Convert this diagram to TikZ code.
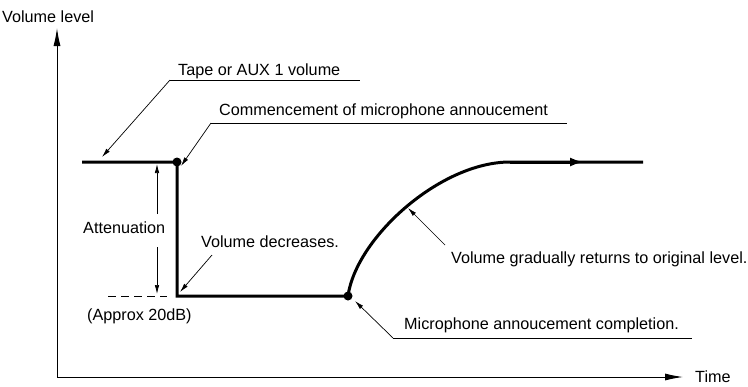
\documentclass[tikz,border=0pt]{standalone}
\usepackage{fontspec}
\setmainfont{Liberation Sans}
\usetikzlibrary{arrows.meta,positioning}

\tikzset{
  labeltext/.style={inner sep=0pt,anchor=base west,font=\fontsize{16.2bp}{19bp}\selectfont},
  axis/.style={line width=1bp,-{Latex[length=18bp,width=7bp]}},
  leader/.style={line width=0.7bp,-{Latex[length=9bp,width=4.5bp]}},
  underline/.style={line width=0.7bp},
  level/.style={line width=3bp},
  dot/.style={circle,fill,inner sep=0pt,minimum size=9bp},
}

\begin{document}
\begin{tikzpicture}[x=1bp,y=-1bp]
    \useasboundingbox (0,0) rectangle (748,386);
    % axes
    \coordinate (origin) at (57,377);
    \coordinate (ytop) at (57,28);
    \coordinate (xend) at (683,377);
    \draw[axis] (origin) -- (ytop);
    \draw[axis] (origin) -- (xend);
    \node[labeltext] (vol) at (2,22) {Volume level};
    \node[labeltext] (time) at (695,382) {Time};

    % volume level
    \coordinate (start) at (82,162);
    \node[dot] (micon) at (177,162) {};
    \coordinate (low) at (177,296);
    \node[dot] (micoff) at (348,296) {};
    \coordinate (back) at (510,162);
    \coordinate (mid) at (584,162);
    \coordinate (stop) at (643,162);
    \draw[level] (start) -- (micon.center) -- (low) -- (micoff.center)
        .. controls (356,238) and (440,162) .. (back) -- (stop);
    \draw[level,-{Latex[length=14bp,width=9bp]}] (back) -- (mid);

    % attenuation
    \node[labeltext] (att) at (83,233) {Attenuation};
    \coordinate (attup) at (157,214);
    \coordinate (atttop) at (157,164);
    \coordinate (attdown) at (157,247);
    \coordinate (attbot) at (157,294);
    \draw[leader] (attup) -- (atttop);
    \draw[leader] (attdown) -- (attbot);
    \coordinate (dashl) at (108,296);
    \coordinate (dashr) at (167,296);
    \draw[line width=0.8bp,dash pattern=on 8bp off 5bp] (dashl) -- (dashr);
    \node[labeltext] (approx) at (87,320) {(Approx 20dB)};

    % tape
    \node[labeltext] (tape) at (178,75) {Tape or AUX 1 volume};
    \coordinate (tapea) at (170,80);
    \coordinate (tapeb) at (360,80);
    \coordinate (tapetip) at (102,157);
    \draw[underline] (tapea) -- (tapeb);
    \draw[leader] (tapea) -- (tapetip);

    % commencement
    \node[labeltext] (comm) at (219,115) {Commencement of microphone annoucement};
    \coordinate (comma) at (211,123);
    \coordinate (commb) at (567,123);
    \coordinate (commtip) at (181,166);
    \draw[underline] (comma) -- (commb);
    \draw[leader] (comma) -- (commtip);

    % decrease
    \node[labeltext] (decr) at (201,247) {Volume decreases.};
    \coordinate (decra) at (212,255);
    \coordinate (decrtip) at (180,292);
    \draw[leader] (decra) -- (decrtip);

    % return
    \node[labeltext] (ret) at (451,263) {Volume gradually returns to original level.};
    \coordinate (reta) at (445,245);
    \coordinate (rettip) at (408,208);
    \draw[leader] (reta) -- (rettip);

    % completion
    \node[labeltext] (compl) at (404,329) {Microphone annoucement completion.};
    \coordinate (compla) at (393,338);
    \coordinate (complb) at (692,338);
    \coordinate (compltip) at (355,301);
    \draw[underline] (compla) -- (complb);
    \draw[leader] (compla) -- (compltip);
\end{tikzpicture}
\end{document}
